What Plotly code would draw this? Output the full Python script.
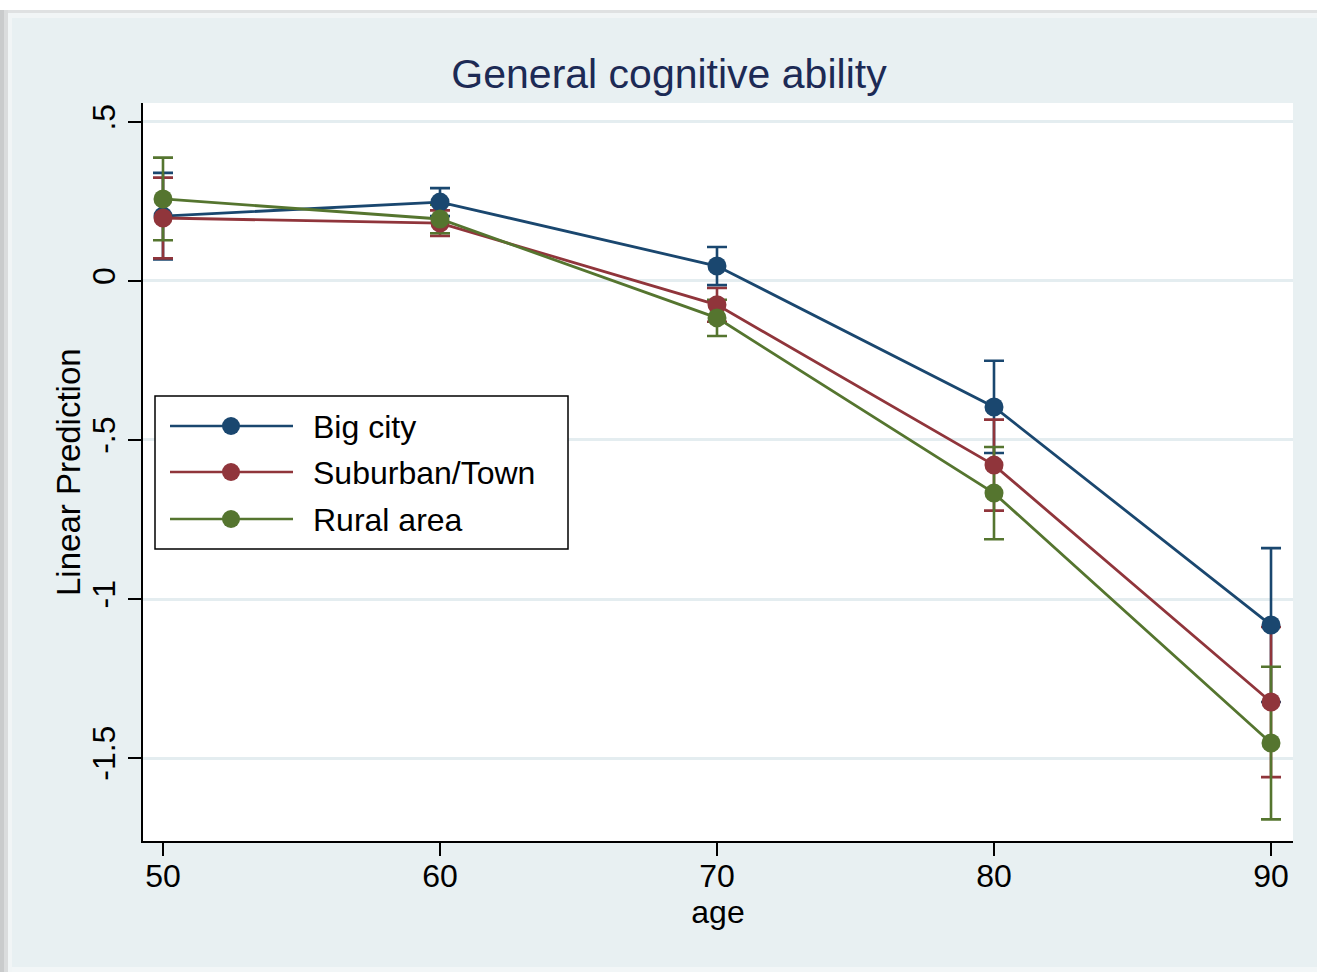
import plotly.graph_objects as go

# Margins (predicted values) by age and area type, with 95% CI half-widths
ages = [50, 60, 70, 80, 90]
series_names = ["Big city", "Suburban/Town", "Rural area"]
big_city = [0.204, 0.248, 0.047, -0.396, -1.082]
big_city_ci = [0.136, 0.044, 0.060, 0.145, 0.242]
suburban = [0.198, 0.182, -0.075, -0.579, -1.324]
suburban_ci = [0.127, 0.040, 0.053, 0.143, 0.236]
rural = [0.258, 0.195, -0.116, -0.667, -1.453]
rural_ci = [0.130, 0.045, 0.057, 0.145, 0.240]
y_ticks = [0.5, 0, -0.5, -1, -1.5]
y_tick_text = [".5", "0", "-.5", "-1", "-1.5"]

colors = ["#1a476f", "#90353b", "#55752f"]
values = [big_city, suburban, rural]
cis = [big_city_ci, suburban_ci, rural_ci]

W, H = 1317, 972
L, R, T, B = 143, 1293, 103, 841
FONT = "Liberation Sans, Arial, Helvetica, sans-serif"
BG = "#e8f0f2"

fig = go.Figure()

# confidence-interval caps first, so every line and marker sits above them
for name, ys, ci, col in zip(series_names, values, cis, colors):
    fig.add_trace(go.Scatter(
        x=ages, y=ys, mode="markers",
        marker=dict(color="rgba(0,0,0,0)", size=1),
        error_y=dict(type="data", array=ci, symmetric=True,
                     color=col, thickness=2.6, width=10),
        showlegend=False, hoverinfo="skip"))

for name, ys, col in zip(series_names, values, colors):
    fig.add_trace(go.Scatter(
        x=ages, y=ys, mode="lines+markers", name=name,
        line=dict(color=col, width=2.8),
        marker=dict(color=col, size=19),
        showlegend=False))


def px(x):
    return (x - L) / (R - L)


def py(y):
    return (B - y) / (B - T)


shapes = []
# page frame: white strip and soft shadow at top, shadow on the left edge
shapes.append(dict(type="rect", xref="paper", yref="paper",
                   x0=px(0), x1=px(W), y0=py(0), y1=py(10),
                   fillcolor="white", line=dict(width=0), layer="below"))
shapes.append(dict(type="rect", xref="paper", yref="paper",
                   x0=px(8), x1=px(W), y0=py(10), y1=py(13),
                   fillcolor="#dfe1e2", line=dict(width=0), layer="below"))
shapes.append(dict(type="rect", xref="paper", yref="paper",
                   x0=px(12), x1=px(W), y0=py(13), y1=py(18),
                   fillcolor="#f1f5f6", line=dict(width=0), layer="below"))
shapes.append(dict(type="rect", xref="paper", yref="paper",
                   x0=px(0), x1=px(4), y0=py(10), y1=py(H),
                   fillcolor="#c9cbcc", line=dict(width=0), layer="below"))
shapes.append(dict(type="rect", xref="paper", yref="paper",
                   x0=px(4), x1=px(8), y0=py(10), y1=py(H),
                   fillcolor="#dadcdd", line=dict(width=0), layer="below"))
shapes.append(dict(type="rect", xref="paper", yref="paper",
                   x0=px(8), x1=px(12), y0=py(13), y1=py(H),
                   fillcolor="#f1f5f6", line=dict(width=0), layer="below"))
shapes.append(dict(type="rect", xref="paper", yref="paper",
                   x0=px(12), x1=px(W), y0=py(967), y1=py(H),
                   fillcolor="#f2f6f7", line=dict(width=0), layer="below"))

# legend box drawn inside the plot area
lx0, lx1, ly0, ly1 = 155, 568, 396, 549
shapes.append(dict(type="rect", xref="paper", yref="paper",
                   x0=px(lx0), x1=px(lx1), y0=py(ly0), y1=py(ly1),
                   fillcolor="white", line=dict(color="black", width=1.5)))
annotations = []
row_y = [426, 472, 519]
for name, col, ry in zip(series_names, colors, row_y):
    shapes.append(dict(type="line", xref="paper", yref="paper",
                       x0=px(170), x1=px(293), y0=py(ry), y1=py(ry),
                       line=dict(color=col, width=2.5)))
    shapes.append(dict(type="circle", xref="paper", yref="paper",
                       x0=px(231 - 9), x1=px(231 + 9),
                       y0=py(ry - 9), y1=py(ry + 9),
                       fillcolor=col, line=dict(color=col, width=0)))
    annotations.append(dict(xref="paper", yref="paper", x=px(311), y=py(ry + 1),
                            text=name, showarrow=False, xanchor="left",
                            yanchor="middle",
                            font=dict(family=FONT, size=32, color="black")))

# y-axis title
annotations.append(dict(xref="paper", yref="paper", x=px(68), y=0.5,
                        text="Linear Prediction", textangle=-90, showarrow=False,
                        xanchor="center", yanchor="middle",
                        font=dict(family=FONT, size=33, color="black")))

fig.update_layout(
    width=W, height=H,
    margin=dict(l=L, r=W - R, t=T, b=H - B, pad=0),
    paper_bgcolor=BG, plot_bgcolor="white",
    font=dict(family=FONT, color="black"),
    title=dict(text="General cognitive ability", xref="container", yref="container",
               x=669 / W, y=1 - 74 / H, xanchor="center", yanchor="middle",
               font=dict(family=FONT, size=41, color="#1c2a55")),
    shapes=shapes, annotations=annotations,
    xaxis=dict(range=[49.278, 90.794], tickvals=ages,
               ticks="outside", ticklen=13, tickwidth=1.5, tickcolor="black",
               ticklabelstandoff=-7,
               showline=True, linecolor="black", linewidth=1.5,
               showgrid=False, zeroline=False,
               tickfont=dict(family=FONT, size=32, color="black"),
               title=dict(text="age", standoff=2,
                          font=dict(family=FONT, size=32, color="black"))),
    yaxis=dict(range=[-1.761, 0.5597], tickvals=y_ticks, ticktext=y_tick_text,
               tickangle=-90,
               ticks="outside", ticklen=13, tickwidth=1.5, tickcolor="black",
               showline=True, linecolor="black", linewidth=1.5,
               showgrid=True, gridcolor="#e4edf0", gridwidth=2.5,
               zeroline=False,
               tickfont=dict(family=FONT, size=32, color="black")),
)

fig.write_html("out.html")
